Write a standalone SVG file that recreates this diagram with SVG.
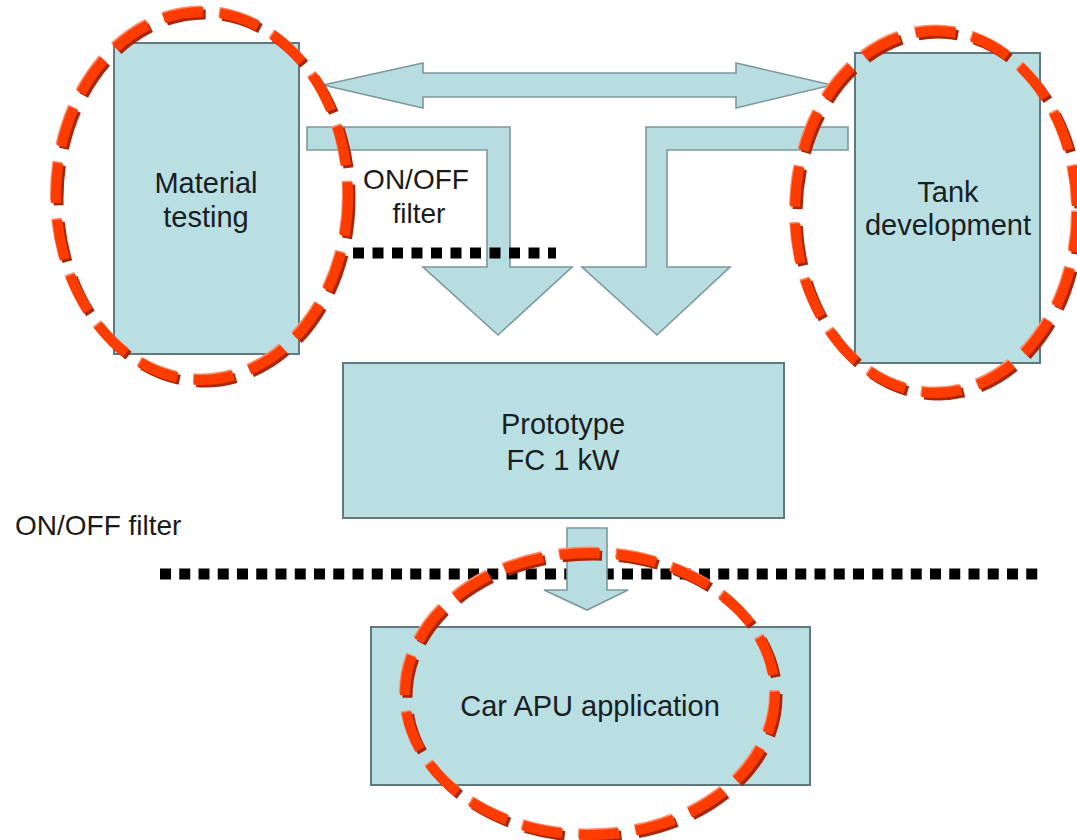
<svg xmlns="http://www.w3.org/2000/svg" width="1077" height="840" viewBox="0 0 1077 840">
  <style>
    .box { fill: #badfe3; stroke: #5f7a7e; stroke-width: 2; }
    .arrow { fill: #b8dde1; stroke: #7d989c; stroke-width: 1.6; stroke-linejoin: miter; }
    .label { font-family: "Liberation Sans", Arial, sans-serif; font-size: 29px; fill: #172123; text-anchor: middle; }
    .note { font-family: "Liberation Sans", Arial, sans-serif; font-size: 28px; fill: #1a1a1a; }
    .filter { stroke: #000; stroke-width: 11; fill: none; }
    .ring-shadow { fill: none; stroke: #a8260a; stroke-width: 10; stroke-dasharray: 40 17; }
    .ring-light { fill: none; stroke: #ff8a68; stroke-width: 10; stroke-dasharray: 40 17; }
    .ring { fill: none; stroke: #ff3c00; stroke-width: 10; stroke-dasharray: 40 17; }
  </style>
  <rect width="1077" height="840" fill="#ffffff"/>

  <!-- nodes -->
  <g id="material-testing">
    <rect class="box" x="114" y="43" width="185" height="311"/>
    <text class="label" x="206" y="193">Material</text>
    <text class="label" x="206" y="227">testing</text>
  </g>
  <g id="tank-development">
    <rect class="box" x="855" y="53" width="185" height="310"/>
    <text class="label" x="948" y="202">Tank</text>
    <text class="label" x="948" y="235">development</text>
  </g>
  <g id="prototype">
    <rect class="box" x="343" y="363" width="441" height="155"/>
    <text class="label" x="563" y="434">Prototype</text>
    <text class="label" x="563" y="470">FC 1 kW</text>
  </g>
  <g id="car-apu">
    <rect class="box" x="371" y="627" width="439" height="158"/>
    <text class="label" x="590" y="716">Car APU application</text>
  </g>

  <!-- connectors -->
  <g id="connectors">
    <!-- exchange between material testing and tank development -->
    <polygon class="arrow" points="323,85 423,63 423,73 736,73 736,63 832,85 736,108 736,97 423,97 423,108"/>
    <!-- material testing feeds the prototype -->
    <polygon class="arrow" points="307,127 510,127 510,267 572,267 498,335 423,267 487,267 487,150 307,150"/>
    <!-- tank development feeds the prototype -->
    <polygon class="arrow" points="848,127 646,127 646,267 582,267 657,335 730,267 667,267 667,150 848,150"/>
  </g>

  <!-- lower filter line, passed by the prototype arrow -->
  <g id="filter-lower">
    <line class="filter" x1="160" y1="574" x2="1045" y2="574" stroke-dasharray="11 8.25"/>
  </g>
  <g id="connector-prototype-apu">
    <polygon class="arrow" points="567,528 607,528 607,590 628,590 587,610 544,590 567,590"/>
  </g>

  <!-- upper filter line with its label -->
  <g id="filter-upper">
    <line class="filter" x1="353" y1="253" x2="556" y2="253" stroke-dasharray="11 8.5"/>
    <text class="note" x="416" y="189" text-anchor="middle">ON/OFF</text>
    <text class="note" x="419" y="223" text-anchor="middle">filter</text>
  </g>
  <g id="filter-label-lower">
    <text class="note" x="15" y="535">ON/OFF filter</text>
  </g>

  <!-- highlight rings -->
  <g id="rings">
    <ellipse class="ring-shadow" cx="204.5" cy="198.5" rx="146" ry="184"/>
    <ellipse class="ring-light" cx="201" cy="194.5" rx="146" ry="184"/>
    <ellipse class="ring" cx="202" cy="196" rx="146" ry="184"/>

    <ellipse class="ring-shadow" cx="938.5" cy="214.5" rx="141" ry="181"/>
    <ellipse class="ring-light" cx="935" cy="210.5" rx="141" ry="181"/>
    <ellipse class="ring" cx="936" cy="212" rx="141" ry="181"/>

    <ellipse class="ring-shadow" cx="592.5" cy="696.5" rx="185" ry="141"/>
    <ellipse class="ring-light" cx="589" cy="692.5" rx="185" ry="141"/>
    <ellipse class="ring" cx="590" cy="694" rx="185" ry="141"/>
  </g>
</svg>
